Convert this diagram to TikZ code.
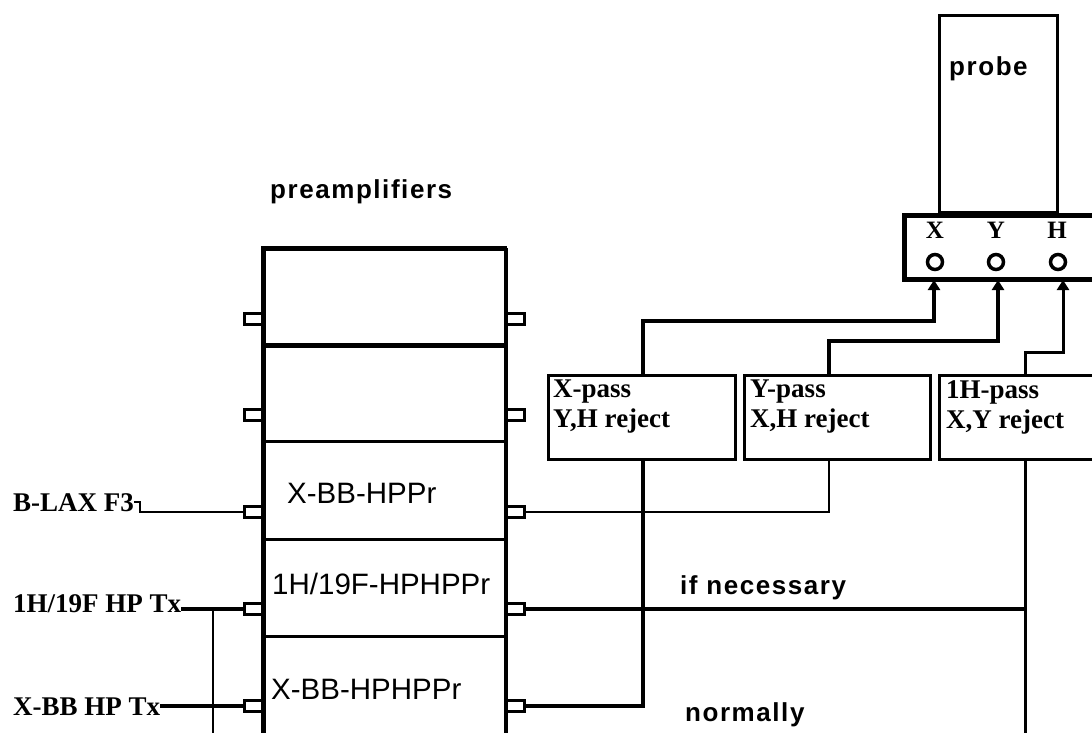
\documentclass[tikz,border=0pt]{standalone}
\usepackage{fontspec}
\setmainfont{Liberation Serif}
\newfontfamily\sansf{Liberation Sans}
\newfontfamily\bmf[LetterSpace=6]{Liberation Sans}
\usetikzlibrary{arrows.meta,calc}
\begin{document}
\begin{tikzpicture}[x=1pt,y=-1pt,
  wthin/.style={line width=2pt},
  wmid/.style={line width=3pt},
  wthick/.style={line width=4pt},
  tabbox/.style={draw, line width=3pt, minimum width=18pt, minimum height=11.5pt, inner sep=0pt},
  rowbox/.style={draw, line width=2.5pt, minimum width=241pt, inner sep=0pt, anchor=north west},
  filt/.style={draw, line width=3pt, minimum height=84pt, inner sep=0pt, anchor=north west},
  bmtext/.style={font=\bmf\bfseries\fontsize{26}{29}\selectfont, inner sep=0pt, anchor=base west},
  serifl/.style={font=\bfseries\fontsize{27}{30}\selectfont, inner sep=0pt, anchor=base west},
  seriff/.style={font=\bfseries\fontsize{27}{30}\selectfont, inner sep=0pt, anchor=north west, align=left},
  sansl/.style={font=\sansf\fontsize{29.5}{32}\selectfont, inner sep=0pt, anchor=west},
  port/.style={draw, circle, line width=3.5pt, minimum size=15pt, inner sep=0pt},
  portl/.style={font=\bfseries\fontsize{25}{28}\selectfont, inner sep=0pt},
  arr/.style={-{Triangle[width=12pt,length=10pt]}}
]
\useasboundingbox (0,0) rectangle (1092,732);

% probe and connector block
\node[draw, line width=3pt, minimum width=118pt, minimum height=197pt, inner sep=0pt, anchor=north west] (probe) at (938,14) {};
\node[bmtext] (probet) at (949,75) {probe};
\node[draw, line width=5pt, minimum width=210pt, minimum height=64pt, inner sep=0pt, anchor=north west] (conn) at (902,213) {};
\node[portl] (lX) at (935,230) {X};
\node[portl] (lY) at (996,230) {Y};
\node[portl] (lH) at (1057,230) {H};
\node[port] (pX) at (935,262) {};
\node[port] (pY) at (996,262) {};
\node[port] (pH) at (1058,262) {};
\coordinate (aX) at (934,280);
\coordinate (aY) at (998,280);
\coordinate (aH) at (1063,280);

% preamplifiers
\node[bmtext] (pre) at (270,198) {preamplifiers};
\node[rowbox, minimum height=95pt] (row1) at (263,248) {};
\node[rowbox, minimum height=97pt] (row2) at (263,343) {};
\node[rowbox, minimum height=98pt] (row3) at (263,440) {};
\node[rowbox, minimum height=97pt] (row4) at (263,538) {};
\node[rowbox, minimum height=110pt] (row5) at (263,635) {};
\draw[line width=4pt] (row5.south west) -- (row1.north west) -- (row1.north east);
\draw[line width=4pt] (row1.south west) -- (row1.south east);
\draw[line width=3pt] (row1.north east) -- (row5.south east);

\node[sansl] (t3) at (287,493) {X-BB-HPPr};
\node[sansl] (t4) at (272,584) {1H/19F-HPHPPr};
\node[sansl] (t5) at (271,689) {X-BB-HPHPPr};

\foreach \n/\yy in {1/319,2/415,3/512,4/609,5/706}{
  \node[tabbox] (L\n) at (253,\yy) {};
  \node[tabbox] (R\n) at (515,\yy) {};
}

% input labels
\node[serifl] (blax) at (13,511) {B-LAX F3};
\node[serifl] (hptx) at (13,612) {1H/19F HP Tx};
\node[serifl] (xbbtx) at (13,715) {X-BB HP Tx};
\draw[wthin] (blax.east) -- ++(6,0) |- (L3.west);
\draw[wthick] (L4.west) -- (L4.west -| hptx.east);
\draw[wthick] (L5.west) -- (L5.west -| xbbtx.east);
\coordinate (vbot) at (213,740);
\draw[wthin] (vbot |- L4.west) -- (vbot);

% filters
\node[filt, minimum width=187pt] (xpass) at (547,374) {};
\node[filt, minimum width=186pt] (ypass) at (743,374) {};
\node[filt, minimum width=170pt] (hpass) at (938,374) {};
\node[seriff] (xpt) at (553,380) {X-pass\\Y,H reject};
\node[seriff] (ypt) at (750,380) {Y-pass\\X,H reject};
\node[seriff] (hpt) at (946,380) {1H-pass\\X,Y reject};

% filter -> probe
\coordinate (kX) at (934,321);
\coordinate (kY) at (998,341);
\coordinate (kH) at (1063,352);
\coordinate (xt) at ($(xpass.north west)+(96,0)$);
\coordinate (yt) at ($(ypass.north west)+(86,0)$);
\coordinate (ht) at ($(hpass.north west)+(87,0)$);
\draw[wthick, arr] (xt) |- (kX) -- (aX);
\draw[line width=3.5pt, arr] (yt) |- (kY) -- (aY);
\draw[wmid, arr] (ht) |- (kH) -- (aH);

% preamp outputs -> filters
\coordinate (xb) at ($(xpass.south west)+(96,0)$);
\coordinate (yb) at ($(ypass.south west)+(86,0)$);
\coordinate (hb) at ($(hpass.south west)+(87,0)$);
\draw[wthin] (R3.east) -| (yb);
\draw[wthick] (R5.east) -| (xb);
\draw[wthick] (R4.east) -- (R4.east -| hb);
\draw[wmid] (hb) -- ++(0,290);

\node[bmtext] (ifn) at (680,594) {if necessary};
\node[bmtext] (norm) at (685,721) {normally};
\end{tikzpicture}
\end{document}
